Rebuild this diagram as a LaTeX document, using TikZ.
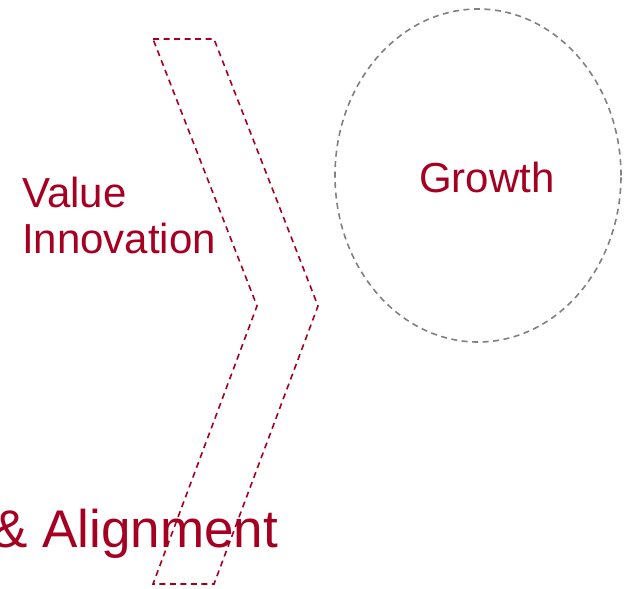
\documentclass[tikz,border=0pt]{standalone}
\usepackage{fontspec}
\setmainfont{Liberation Sans}
\usetikzlibrary{calc}
\usetikzlibrary{positioning}
\usetikzlibrary{shapes.geometric}
\definecolor{darkred}{HTML}{A50021}
\definecolor{midgray}{HTML}{808080}

\begin{document}
\begin{tikzpicture}[
	x=1pt, y=-1pt,
  arrowline/.style = {draw=darkred, line width=1.6pt, dash pattern=on 6pt off 4.5pt},
  ringline/.style = {draw=midgray, line width=1.6pt, dash pattern=on 6pt off 4.5pt},
  label text/.style = {text=darkred, inner sep=0pt}
  ]
	\useasboundingbox[clip] (0,0) rectangle (628,588);

	\coordinate (@1) at (153,39);
	\coordinate (@2) at (214,39);
	\coordinate (@3) at (318,306);
	\coordinate (@4) at (214,584);
	\coordinate (@5) at (153,584);
	\coordinate (@6) at (257,306);

	\draw[arrowline] (@1) -- (@2) -- (@3) -- (@4) -- (@5) -- (@6) -- cycle;

	\node[ringline, ellipse, inner sep=0pt, minimum width=286pt, minimum height=333pt] (growth) at (478,175.5) {};

	\node[label text, anchor=base] (growthtext) at (487,192) {\fontsize{42}{46}\selectfont Growth};
	\node[label text, anchor=base west, align=left, font=\fontsize{42}{46}\selectfont] (value) at (22,253) {Value\\Innovation};
	\node[label text, anchor=base west] (align) at (-8,547) {\fontsize{53}{58}\selectfont \& Alignment};

\end{tikzpicture}
\end{document}
